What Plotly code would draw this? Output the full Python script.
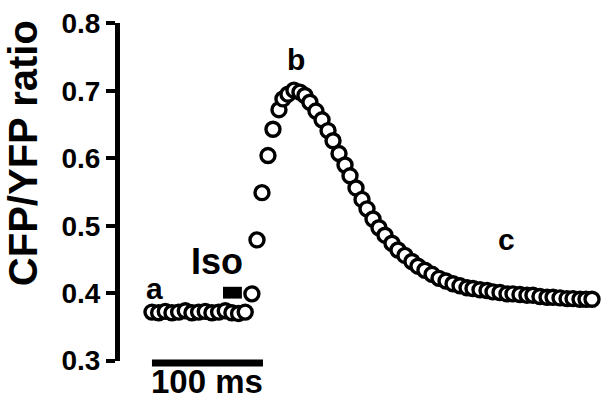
import plotly.graph_objects as go

# Time (ms) and CFP/YFP emission ratio of the FRET sensor
time_ms = [0, 6, 12, 18, 24, 30, 36, 42, 48, 54, 60, 66, 72, 78, 84,
           90, 94.6, 99.1, 104.5, 109, 114.4, 118, 122.5, 127.9, 133.3,
           137.8, 142.3, 147.7, 153.2, 158.6, 163.1, 168.5, 173.9, 178.4, 183.8,
           189.2, 193.7, 199.1, 204.5, 209.9, 216.2, 221.6, 227.9, 234.2, 239.6,
           245.9, 252.3, 258.6, 264.9, 271.2, 277.5, 283.8, 289.2, 295.5, 301.8,
           307.2, 313.5, 319.8, 325.2, 331.5, 337.8, 343.2, 349.5, 355.9, 361.3,
           367.6, 373.9, 379.3, 385.6, 391, 396.4]
ratio = [0.372, 0.371, 0.373, 0.371, 0.372, 0.374, 0.371, 0.372, 0.373, 0.371, 0.372, 0.374, 0.371, 0.370, 0.372,
         0.399, 0.479, 0.549, 0.604, 0.643, 0.672, 0.688, 0.695, 0.701, 0.698,
         0.693, 0.683, 0.670, 0.657, 0.641, 0.626, 0.607, 0.590, 0.574, 0.556,
         0.539, 0.525, 0.510, 0.497, 0.486, 0.474, 0.464, 0.456, 0.447, 0.440,
         0.434, 0.428, 0.422, 0.418, 0.414, 0.411, 0.408, 0.407, 0.405, 0.404,
         0.402, 0.401, 0.399, 0.399, 0.398, 0.397, 0.397, 0.395, 0.394, 0.394,
         0.393, 0.392, 0.392, 0.391, 0.391, 0.391]

y_ticks = [0.3, 0.4, 0.5, 0.6, 0.7, 0.8]
y_tick_text = ["0.3", "0.4", "0.5", "0.6", "0.7", "0.8"]

scale_bar_ms = 100
iso_start, iso_end = 64, 81
iso_low, iso_high = 0.392, 0.4095

phase_labels = ["a", "b", "c"]
phase_x = [2.7, 129.7, 319.8]
phase_y = [0.407, 0.747, 0.479]

FONT = "Arial, 'Liberation Sans', sans-serif"

fig = go.Figure()
fig.add_trace(go.Scatter(
    x=time_ms, y=ratio, mode="markers",
    marker=dict(symbol="circle", size=14, color="white",
                line=dict(color="black", width=3.4)),
    cliponaxis=False, showlegend=False,
))

# Isoproterenol application marker
fig.add_shape(type="rect", xref="x", yref="y",
              x0=iso_start, x1=iso_end, y0=iso_low, y1=iso_high,
              fillcolor="black", line=dict(width=0))
fig.add_annotation(x=58.6, y=0.447, xref="x", yref="y", text="Iso",
                   showarrow=False, font=dict(family=FONT, size=36, color="black", weight="bold"))

for lab, lx, ly in zip(phase_labels, phase_x, phase_y):
    fig.add_annotation(x=lx, y=ly, xref="x", yref="y", text=lab, showarrow=False,
                       font=dict(family=FONT, size=30, color="black", weight="bold"))

# Time scale bar
fig.add_shape(type="line", xref="x", yref="paper",
              x0=0, x1=scale_bar_ms, y0=-0.006, y1=-0.006,
              line=dict(color="black", width=7))
fig.add_annotation(x=scale_bar_ms / 2, y=-0.062, xref="x", yref="paper",
                   text=f"{scale_bar_ms} ms", showarrow=False, yanchor="middle",
                   font=dict(family=FONT, size=33, color="black", weight="bold"))

# Y-axis title
fig.add_annotation(x=-0.2, y=0.615, xref="paper", yref="paper",
                   text="CFP/YFP ratio", textangle=-90, showarrow=False,
                   xanchor="center", yanchor="middle",
                   font=dict(family=FONT, size=40, color="black", weight="bold"))

fig.update_xaxes(range=[-28.8, 408.1], visible=False)
fig.update_yaxes(range=[0.2995, 0.8005], tickvals=y_ticks, ticktext=y_tick_text,
                 showgrid=False, zeroline=False, showline=True, linecolor="black",
                 linewidth=5, ticks="outside", ticklen=9, tickwidth=4, tickcolor="black",
                 ticklabeloverflow="allow",
                 tickfont=dict(family=FONT, size=28, color="black", weight="bold"))

fig.update_layout(width=613, height=410, margin=dict(l=120, r=8, t=14, b=49),
                  plot_bgcolor="white", paper_bgcolor="white")

fig.write_html("out.html")
